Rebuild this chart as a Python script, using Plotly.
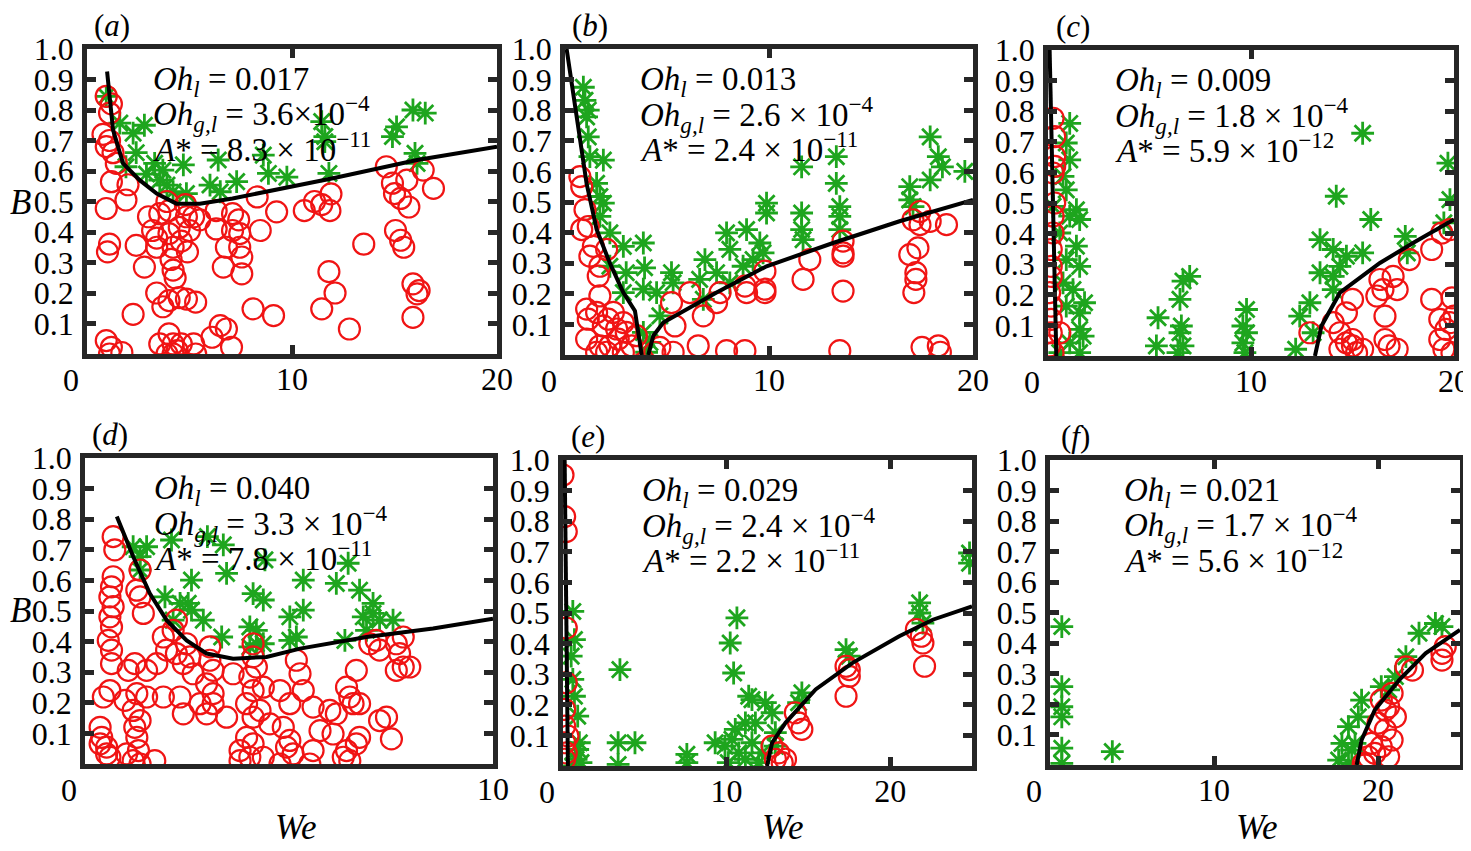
import plotly.graph_objects as go
from plotly.subplots import make_subplots

# ---- panel (a) ----
a_red_x = [0.94, 1.19, 1.1, 0.78, 1.1, 0.94, 1.27, 1.43, 1.19, 2.0, 1.9, 0.94, 1.1, 1.0, 2.4, 2.8, 2.25,
           0.94, 1.19, 1.7, 1.1, 3.4, 3.0, 3.2, 3.4, 3.4, 3.55, 3.9, 4.0, 4.0, 4.2, 4.1, 4.2, 4.3, 4.5,
           4.6, 4.85, 5.0, 4.9, 4.8, 5.2, 5.5, 3.7, 4.0, 4.5, 4.85, 5.3, 3.55, 4.0, 4.2, 3.9, 4.4, 4.6,
           5.2, 5.3, 4.2, 6.1, 6.5, 6.8, 7.05, 6.3, 6.3, 6.65, 6.8, 7.1, 7.4, 7.1, 7.45, 7.45, 7.55,
           7.55, 8.3, 8.45, 8.1, 9.1, 9.25, 10.6, 11.1, 11.45, 11.85, 11.9, 11.8, 12.1, 11.45, 12.8,
           13.5, 14.6, 14.9, 15.0, 15.3, 15.6, 15.7, 15.05, 15.3, 15.45, 15.9, 16.1, 16.2, 15.9, 16.4, 16.9]
a_red_y = [0.845, 0.82, 0.79, 0.72, 0.70, 0.68, 0.66, 0.625, 0.565, 0.555, 0.505, 0.477, 0.36, 0.335,
           0.356, 0.285, 0.13, 0.044, 0.022, 0.005, 0.0, 0.2, 0.45, 0.405, 0.38, 0.35, 0.46, 0.5, 0.47,
           0.395, 0.35, 0.31, 0.275, 0.25, 0.415, 0.37, 0.45, 0.405, 0.335, 0.49, 0.45, 0.44, 0.155,
           0.175, 0.185, 0.18, 0.17, 0.033, 0.066, 0.033, 0.0, 0.011, 0.033, 0.033, 0.0, 0.0, 0.055,
           0.093, 0.082, 0.022, 0.47, 0.41, 0.285, 0.35, 0.46, 0.44, 0.405, 0.395, 0.35, 0.318, 0.263,
           0.515, 0.405, 0.148, 0.126, 0.466, 0.47, 0.5, 0.49, 0.47, 0.525, 0.27, 0.2, 0.148, 0.082,
           0.36, 0.614, 0.56, 0.526, 0.51, 0.57, 0.482, 0.405, 0.373, 0.35, 0.23, 0.197, 0.208, 0.12,
           0.603, 0.543]
a_green_x = [0.94, 1.6, 2.25, 2.8, 2.4, 1.9, 2.9, 3.3, 3.7, 3.55, 3.9, 4.2, 4.85, 4.7, 6.0, 6.5, 6.4,
             7.3, 8.6, 8.85, 9.75, 11.45, 11.6, 11.6, 11.8, 14.9, 15.1, 15.9, 16.5, 16.0, 16.1]
a_green_y = [0.845, 0.757, 0.724, 0.75, 0.66, 0.614, 0.59, 0.625, 0.603, 0.57, 0.554, 0.532, 0.526,
             0.62, 0.554, 0.532, 0.636, 0.565, 0.652, 0.592, 0.58, 0.762, 0.713, 0.696, 0.592, 0.713,
             0.745, 0.8, 0.79, 0.658, 0.625]
a_line_x = [0.98, 1.27, 1.76, 2.57, 3.4, 4.36, 5.5, 7.1, 12.0, 16.1, 20.0]
a_line_y = [0.926, 0.735, 0.625, 0.57, 0.526, 0.493, 0.493, 0.51, 0.576, 0.636, 0.68]

# ---- panel (b) ----
b_red_x = [0.73, 0.82, 0.98, 0.82, 1.14, 1.39, 1.22, 1.71, 1.63, 2.04, 1.71, 1.06, 1.14, 1.06, 1.55,
           1.88, 2.12, 2.37, 2.53, 2.86, 3.0, 2.61, 1.71, 1.55, 2.2, 2.86, 3.27, 3.5, 2.04, 4.4, 4.65,
           5.3, 5.39, 5.22, 6.12, 6.53, 6.78, 7.43, 7.6, 7.92, 8.82, 8.82, 8.9, 9.8, 9.8, 9.8, 11.67,
           12.0, 13.47, 13.63, 13.63, 13.63, 13.63, 16.9, 17.3, 17.2, 17.2, 17.1, 17.06, 17.4, 17.4,
           17.9, 18.7, 17.5, 18.3, 18.4]
b_red_y = [0.583, 0.55, 0.475, 0.41, 0.42, 0.355, 0.323, 0.29, 0.258, 0.345, 0.193, 0.15, 0.117,
           0.052, 0.139, 0.095, 0.117, 0.139, 0.085, 0.106, 0.074, 0.052, 0.03, 0.009, 0.03, 0.009,
           0.03, 0.063, 0.009, 0.009, 0.025, 0.009, 0.095, 0.171, 0.204, 0.03, 0.128, 0.171, 0.204,
           0.014, 0.014, 0.225, 0.204, 0.274, 0.215, 0.204, 0.247, 0.312, 0.014, 0.323, 0.334, 0.209,
           0.372, 0.328, 0.35, 0.269, 0.247, 0.204, 0.442, 0.469, 0.426, 0.437, 0.426, 0.025, 0.03,
           0.009]
b_green_x = [0.9, 0.98, 1.14, 1.06, 1.14, 1.22, 1.88, 1.55, 1.71, 1.88, 1.71, 2.2, 2.86, 3.84, 2.2,
             3.0, 3.9, 2.86, 3.84, 4.49, 5.22, 5.3, 4.65, 3.84, 4.0, 4.16, 6.6, 6.86, 6.78, 7.43, 7.92,
             8.08, 8.08, 8.9, 8.73, 9.22, 9.55, 9.71, 9.88, 9.88, 11.6, 11.6, 11.67, 11.6, 13.3, 13.3,
             13.47, 13.47, 13.47, 16.9, 16.9, 17.06, 17.9, 17.9, 18.3, 18.5, 19.6]
b_green_y = [0.875, 0.832, 0.8, 0.778, 0.713, 0.648, 0.637, 0.561, 0.518, 0.496, 0.453, 0.399, 0.355,
             0.366, 0.29, 0.269, 0.285, 0.204, 0.215, 0.204, 0.269, 0.236, 0.128, 0.074, 0.009, 0.041,
             0.247, 0.312, 0.182, 0.269, 0.399, 0.345, 0.236, 0.41, 0.29, 0.312, 0.366, 0.334, 0.496,
             0.464, 0.464, 0.41, 0.377, 0.615, 0.648, 0.561, 0.485, 0.453, 0.41, 0.55, 0.507, 0.485,
             0.713, 0.572, 0.648, 0.615, 0.6]
b_line_x = [0.08, 0.57, 1.06, 1.55, 2.2, 2.86, 3.43, 3.76, None,
            4.08, 4.33, 4.82, 5.96, 7.43, 9.88, 13.14, 16.4, 20.0]
b_line_y = [1.0, 0.78, 0.56, 0.41, 0.30, 0.204, 0.144, 0.0, None,
            0.0, 0.063, 0.106, 0.15, 0.204, 0.29, 0.366, 0.437, 0.507]

# ---- panel (c) ----
c_red_x = [0.25, 0.33, 0.33, 0.33, 0.25, 0.33, 0.25, 0.25, 0.16, 0.16, 0.16, 0.08, 0.16, 0.16, 0.16,
           0.08, 0.25, 0.58, 12.9, 14.05, 14.38, 14.7, 14.38, 15.0, 15.5, 15.2, 15.0, 14.7, 15.0,
           16.35, 16.5, 16.2, 17.0, 17.2, 16.6, 17.8, 18.9, 19.4, 19.8, 18.9, 19.9, 16.6, 16.8, 17.2,
           19.3, 19.6, 19.8, 19.3, 19.5, 19.9, 20.0]
c_red_y = [0.777, 0.717, 0.652, 0.62, 0.598, 0.5, 0.457, 0.402, 0.348, 0.293, 0.26, 0.207, 0.163, 0.12,
           0.076, 0.033, 0.011, 0.076, 0.076, 0.109, 0.076, 0.043, 0.022, 0.033, 0.022, 0.011, 0.185,
           0.141, 0.054, 0.25, 0.217, 0.196, 0.26, 0.217, 0.13, 0.315, 0.348, 0.402, 0.413, 0.185, 0.19,
           0.054, 0.033, 0.022, 0.12, 0.087, 0.109, 0.054, 0.022, 0.011, 0.13]
c_green_x = [1.07, 0.9, 1.07, 0.74, 0.9, 1.4, 1.56, 1.07, 1.4, 0.58, 0.9, 1.56, 0.74, 1.23, 1.8, 0.9,
             1.56, 1.56, 1.73, 1.07, 0.58, 1.56, 0.25, 5.42, 5.34, 6.98, 6.65, 6.5, 6.57, 6.5, 6.65,
             6.4, 9.78, 9.6, 9.78, 9.6, 9.7, 12.4, 12.9, 12.2, 13.4, 14.05, 13.4, 14.05, 14.38, 14.7,
             15.5, 14.2, 15.5, 15.9, 17.6, 17.7, 19.7, 19.8, 19.5, 14.05, 13.06]
c_green_y = [0.76, 0.696, 0.641, 0.587, 0.543, 0.478, 0.446, 0.457, 0.359, 0.402, 0.315, 0.293, 0.239,
             0.217, 0.174, 0.163, 0.141, 0.087, 0.065, 0.043, 0.011, 0.011, 0.489, 0.125, 0.033, 0.26,
             0.245, 0.185, 0.098, 0.076, 0.033, 0.011, 0.152, 0.098, 0.076, 0.043, 0.011, 0.13, 0.174,
             0.022, 0.38, 0.348, 0.272, 0.26, 0.293, 0.326, 0.337, 0.522, 0.728, 0.446, 0.391, 0.337,
             0.63, 0.511, 0.435, 0.217, 0.076]
c_line_x = [0.08, 0.41, None, 13.15, 13.47, 14.38, 16.35, 18.0, 20.0]
c_line_y = [1.0, 0.0, None, 0.0, 0.098, 0.207, 0.304, 0.37, 0.446]

# ---- panel (d) ----
d_red_x = [0.69, 0.73, 0.69, 0.65, 0.61, 0.69, 0.61, 0.65, 0.57, 0.65, 0.65, 0.45, 0.37, 0.41, 0.37,
           0.53, 0.53, 0.61, 0.61, 1.35, 1.27, 1.35, 1.43, 1.22, 1.27, 1.18, 1.22, 1.27, 1.31, 1.18,
           1.35, 0.98, 1.06, 1.51, 1.51, 1.71, 1.02, 1.35, 1.92, 2.0, 1.76, 2.16, 2.24, 2.41, 2.49,
           1.92, 2.33, 2.41, 2.65, 2.82, 2.24, 2.57, 3.06, 3.06, 3.14, 2.98, 3.14, 3.14, 2.98, 3.47,
           3.63, 4.12, 4.2, 4.04, 4.12, 3.96, 4.29, 4.12, 3.96, 4.12, 3.8, 4.04, 4.37, 3.8, 4.12, 4.37,
           4.53, 4.78, 5.02, 4.86, 5.02, 4.94, 5.18, 5.27, 5.35, 5.59, 5.51, 5.1, 4.78, 5.59, 5.76, 6.0,
           6.16, 6.41, 6.49, 6.57, 6.65, 6.73, 6.08, 6.33, 6.41, 6.49, 6.65, 6.73, 7.22, 7.39, 7.51,
           6.98, 7.22, 7.63, 7.71, 7.63, 7.8, 7.96, 7.8, 7.14]
d_red_y = [0.743, 0.7, 0.612, 0.579, 0.546, 0.514, 0.481, 0.448, 0.404, 0.372, 0.328, 0.219, 0.12,
           0.087, 0.066, 0.033, 0.055, 0.24, 0.022, 0.634, 0.568, 0.546, 0.492, 0.328, 0.23, 0.175, 0.12,
           0.087, 0.044, 0.011, 0.0, 0.208, 0.306, 0.306, 0.219, 0.011, 0.033, 0.142, 0.415, 0.372,
           0.328, 0.437, 0.361, 0.328, 0.393, 0.219, 0.219, 0.164, 0.295, 0.197, 0.47, 0.35, 0.383,
           0.339, 0.306, 0.262, 0.23, 0.197, 0.164, 0.153, 0.295, 0.35, 0.317, 0.284, 0.24, 0.197,
           0.175, 0.153, 0.087, 0.066, 0.044, 0.022, 0.022, 0.011, 0.393, 0.251, 0.131, 0.24, 0.197,
           0.12, 0.077, 0.055, 0.339, 0.295, 0.24, 0.186, 0.0, 0.033, 0.0, 0.044, 0.109, 0.175, 0.164,
           0.251, 0.219, 0.197, 0.306, 0.197, 0.098, 0.022, 0.044, 0.011, 0.066, 0.087, 0.142, 0.153,
           0.082, 0.393, 0.372, 0.393, 0.361, 0.306, 0.317, 0.317, 0.415, 0.404]
d_green_x = [1.18, 1.51, 1.35, 1.35, 2.12, 3.0, 3.39, 2.61, 3.47, 1.96, 2.33, 2.53, 2.61, 2.9, 2.16,
             3.35, 4.12, 4.37, 4.41, 4.04, 4.2, 4.2, 4.04, 4.37, 5.35, 5.35, 5.02, 5.18, 5.02, 6.16,
             6.45, 6.73, 6.37, 7.06, 6.82, 7.06, 7.22, 7.55, 6.9]
d_green_y = [0.71, 0.71, 0.678, 0.634, 0.732, 0.743, 0.716, 0.601, 0.623, 0.546, 0.525, 0.525, 0.503,
             0.47, 0.47, 0.415, 0.557, 0.536, 0.667, 0.448, 0.437, 0.393, 0.383, 0.393, 0.601, 0.503,
             0.481, 0.415, 0.404, 0.59, 0.656, 0.568, 0.404, 0.525, 0.481, 0.492, 0.47, 0.47, 0.437]
d_line_x = [0.78, 1.18, 1.59, 2.0, 2.49, 2.98, 3.63, 4.45, 5.27, 6.9, 8.53, 10.0]
d_line_y = [0.809, 0.678, 0.557, 0.47, 0.404, 0.361, 0.344, 0.35, 0.377, 0.415, 0.443, 0.475]

# ---- panel (e) ----
e_red_x = [0.0, 0.1, 0.2, 0.2, 0.2, 0.1, 0.1, 0.1, 0.1, 0.2, 0.3, 12.78, 12.98, 13.19, 13.4, 13.6,
           14.2, 14.4, 14.6, 17.3, 17.5, 17.5, 17.3, 21.6, 21.9, 22.0, 22.1]
e_red_y = [0.951, 0.815, 0.766, 0.451, 0.272, 0.185, 0.13, 0.076, 0.022, 0.043, 0.098, 0.065, 0.022,
           0.043, 0.011, 0.022, 0.174, 0.141, 0.12, 0.326, 0.293, 0.315, 0.228, 0.446, 0.424, 0.402,
           0.326]
e_green_x = [0.6, 0.7, 0.5, 0.6, 0.7, 0.9, 1.0, 0.9, 0.8, 0.6, 1.1, 3.48, 3.37, 4.4, 3.37, 7.57, 7.57,
             10.63, 10.22, 10.43, 9.3, 9.9, 10.33, 10.74, 10.1, 10.53, 11.15, 11.35, 11.55, 11.76,
             11.55, 11.96, 12.17, 12.37, 12.78, 12.98, 12.98, 11.15, 14.6, 14.4, 17.3, 17.5, 21.8,
             21.8, 22.0, 24.85, 24.85]
e_green_y = [0.505, 0.413, 0.359, 0.283, 0.228, 0.163, 0.076, 0.054, 0.022, 0.0, 0.011, 0.315, 0.076,
             0.076, 0.005, 0.038, 0.011, 0.484, 0.402, 0.304, 0.076, 0.065, 0.087, 0.043, 0.011, 0.12,
             0.141, 0.228, 0.217, 0.141, 0.076, 0.011, 0.043, 0.207, 0.174, 0.065, 0.109, 0.022, 0.239,
             0.207, 0.38, 0.359, 0.533, 0.5, 0.467, 0.696, 0.663]
e_line_x = [0.1, 0.3, None, 12.47, 12.78, 13.6, 15.44, 17.7, 20.55, 22.6, 25.0]
e_line_y = [1.0, 0.0, None, 0.0, 0.076, 0.141, 0.25, 0.337, 0.424, 0.478, 0.522]

# ---- panel (f) ----
f_red_x = [19.1, 19.4, 19.2, 19.6, 19.8, 20.2, 20.45, 20.65, 20.0, 20.45, 20.86, 20.65, 21.06, 20.86,
           21.7, 22.1, 23.9, 23.9, 24.1, 20.2]
f_red_y = [0.005, 0.027, 0.0, 0.071, 0.038, 0.213, 0.18, 0.191, 0.137, 0.115, 0.082, 0.027, 0.158,
           0.235, 0.322, 0.311, 0.366, 0.344, 0.388, 0.06]
f_green_x = [0.72, 0.72, 0.72, 0.72, 0.72, 0.72, 3.8, 19.0, 18.2, 17.8, 17.6, 18.2, 18.6, 18.8, 18.4,
             20.2, 20.65, 21.06, 21.7, 22.5, 23.5, 23.9]
f_green_y = [0.454, 0.257, 0.191, 0.158, 0.055, 0.005, 0.044, 0.213, 0.126, 0.071, 0.016, 0.005, 0.071,
             0.158, 0.049, 0.257, 0.246, 0.29, 0.355, 0.432, 0.464, 0.454]
f_line_x = [18.7, 19.0, 19.8, 21.3, 22.9, 25.0]
f_line_y = [0.0, 0.082, 0.18, 0.279, 0.366, 0.443]

panel_labels = ["(<i>a</i>)", "(<i>b</i>)", "(<i>c</i>)", "(<i>d</i>)", "(<i>e</i>)", "(<i>f</i>)"]
oh_l = ["0.017", "0.013", "0.009", "0.040", "0.029", "0.021"]
oh_gl = ["3.6×10<sup>−4</sup>", "2.6 × 10<sup>−4</sup>", "1.8 × 10<sup>−4</sup>",
         "3.3 × 10<sup>−4</sup>", "2.4 × 10<sup>−4</sup>", "1.7 × 10<sup>−4</sup>"]
a_star = ["8.3 × 10<sup>−11</sup>", "2.4 × 10<sup>−11</sup>", "5.9 × 10<sup>−12</sup>",
          "7.8 × 10<sup>−11</sup>", "2.2 × 10<sup>−11</sup>", "5.6 × 10<sup>−12</sup>"]
x_max = [20, 20, 20, 10, 25, 25]
x_ticks = [[0, 10, 20], [0, 10, 20], [0, 10, 20], [0, 10], [0, 10, 20], [0, 10, 20]]
y_ticks = [0.1, 0.2, 0.3, 0.4, 0.5, 0.6, 0.7, 0.8, 0.9, 1.0]

panels = [
    (a_red_x, a_red_y, a_green_x, a_green_y, a_line_x, a_line_y),
    (b_red_x, b_red_y, b_green_x, b_green_y, b_line_x, b_line_y),
    (c_red_x, c_red_y, c_green_x, c_green_y, c_line_x, c_line_y),
    (d_red_x, d_red_y, d_green_x, d_green_y, d_line_x, d_line_y),
    (e_red_x, e_red_y, e_green_x, e_green_y, e_line_x, e_line_y),
    (f_red_x, f_red_y, f_green_x, f_green_y, f_line_x, f_line_y),
]

# page body has an 8px margin, so the figure is drawn 8px smaller and
# reference pixel positions are shifted by that offset
OFF = 8
W, H = 1471 - OFF, 851 - OFF


def px(x):
    return (x - OFF) / W


def py(y):
    return 1 - (y - OFF) / H


# pixel boxes of each frame in the reference (left, right, top, bottom)
boxes = [(87, 497, 49, 354), (565, 973, 49, 355), (1048, 1454, 50, 356),
         (85, 493, 458, 764), (563, 972, 460, 766), (1050, 1460, 460, 765)]
text_left = [0.155, 0.18, 0.16, 0.165, 0.188, 0.176]

FONT = "Liberation Serif"
RED = "#f01414"
GREEN = "#1ea51e"
FRAME = "#262626"

fig = make_subplots(rows=2, cols=3)

for i, (rx, ry, gx, gy, lx, ly) in enumerate(panels):
    r, c = i // 3 + 1, i % 3 + 1
    fig.add_trace(go.Scatter(x=gx, y=gy, mode="markers",
                             marker=dict(symbol="asterisk-open", size=19, color=GREEN,
                                         line=dict(color=GREEN, width=2.8))),
                  row=r, col=c)
    fig.add_trace(go.Scatter(x=rx, y=ry, mode="markers",
                             marker=dict(symbol="circle-open", size=21, color=RED,
                                         line=dict(color=RED, width=2.2))),
                  row=r, col=c)
    fig.add_trace(go.Scatter(x=lx, y=ly, mode="lines", connectgaps=False,
                             line=dict(color="black", width=4)),
                  row=r, col=c)

    l, rr, t, b = boxes[i]
    sfx = "" if i == 0 else str(i + 1)
    fig.layout["xaxis" + sfx].update(
        domain=[px(l), px(rr)], range=[0, x_max[i]], tickvals=x_ticks[i],
        ticktext=[("" if v == 0 else str(v)) for v in x_ticks[i]], automargin=False,
        showgrid=False, zeroline=False, showline=True, mirror="ticks",
        linecolor=FRAME, linewidth=4.5, ticks="inside", ticklen=9, tickwidth=4.5,
        tickcolor=FRAME, ticklabelstandoff=-7,
        tickfont=dict(family=FONT, size=32, color="black"))
    fig.layout["yaxis" + sfx].update(
        domain=[py(b), py(t)], range=[0, 1], automargin=False,
        tickvals=y_ticks, tickformat=".1f",
        showgrid=False, zeroline=False, showline=True, mirror="ticks",
        linecolor=FRAME, linewidth=4.5, ticks="inside", ticklen=9, tickwidth=4.5,
        tickcolor=FRAME, ticklabelstandoff=2,
        tickfont=dict(family=FONT, size=32, color="black"))

    xr = "x" + sfx + " domain"
    yr = "y" + sfx + " domain"
    # the "0" of the x axis sits left of the frame corner in the original
    fig.add_annotation(x=px(l - 16), y=py(b + 26), xref="paper", yref="paper",
                       text="0", showarrow=False, xanchor="center", yanchor="middle",
                       font=dict(family=FONT, size=32, color="black"))
    lines = ["<i>Oh<sub>l</sub></i> = " + oh_l[i],
             "<i>Oh<sub>g,l</sub></i> = " + oh_gl[i],
             "<i>A</i>* = " + a_star[i]]
    for k, txt in enumerate(lines):
        fig.add_annotation(x=text_left[i], y=0.895 - k * 0.108, xref=xr, yref=yr,
                           text=txt, showarrow=False, xanchor="left", yanchor="middle",
                           font=dict(family=FONT, size=33, color="black"))
    fig.add_annotation(x=px(l + 25), y=py(t - 24), xref="paper", yref="paper",
                       text=panel_labels[i], showarrow=False, xanchor="center",
                       yanchor="middle", font=dict(family=FONT, size=31, color="black"))

# axis titles
for yy in [202, 610]:
    fig.add_annotation(x=px(20), y=py(yy), xref="paper", yref="paper", text="<i>B</i>",
                       showarrow=False, xanchor="center", yanchor="middle",
                       font=dict(family=FONT, size=35, color="black"))
for xx in [295, 782, 1256]:
    fig.add_annotation(x=px(xx), y=py(827), xref="paper", yref="paper", text="<i>We</i>",
                       showarrow=False, xanchor="center", yanchor="middle",
                       font=dict(family=FONT, size=35, color="black"))

fig.update_layout(width=W, height=H, showlegend=False,
                  margin=dict(l=0, r=0, t=0, b=0, autoexpand=False),
                  plot_bgcolor="white", paper_bgcolor="white")

fig.write_html("out.html")
